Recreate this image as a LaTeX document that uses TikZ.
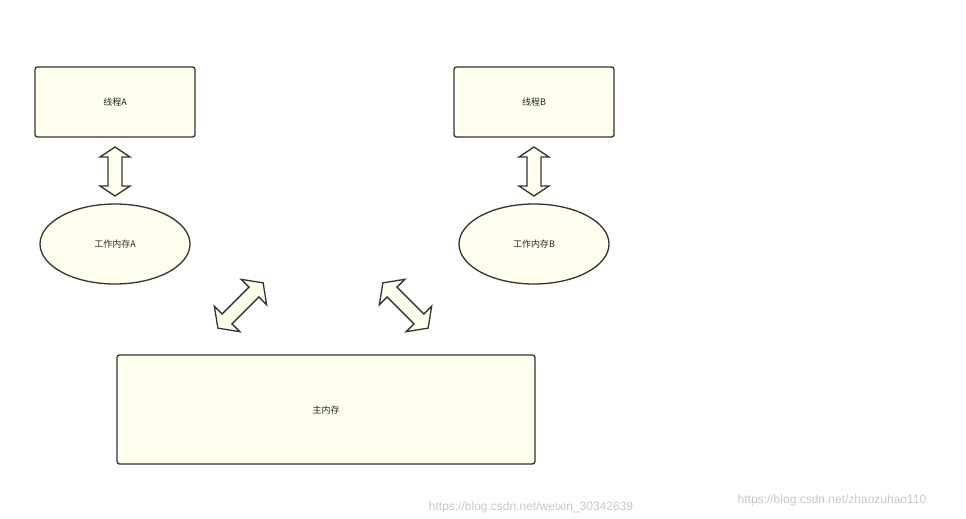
\documentclass[tikz,border=0pt]{standalone}
\usepackage{fontspec}
\setmainfont{Noto Sans CJK SC}
\newfontfamily\wmfont{Liberation Sans}
\definecolor{fillc}{HTML}{FFFFEE}
\definecolor{linec}{HTML}{333333}
\newcommand\myarr[5]{% center, angle, halflength, headhalf, headlen
  \draw[arrowst,shift={(#1)},rotate=#2] (-#3,0) -- (-#3+#5,#4) -- (-#3+#5,7) -- (#3-#5,7) -- (#3-#5,#4) -- (#3,0) -- (#3-#5,-#4) -- (#3-#5,-7) -- (-#3+#5,-7) -- (-#3+#5,-#4) -- cycle;}
\begin{document}
\begin{tikzpicture}[x=1pt,y=-1pt,
  box/.style={draw=linec,line width=1.3pt,fill=fillc,rounded corners=2.5pt},
  arrowst/.style={draw=linec,line width=1.3pt,fill=fillc,line join=miter},
  lbl/.style={font=\fontsize{9}{10}\selectfont,text=black!85},
  wmst/.style={text=black!22,font=\wmfont\fontsize{12}{14}\selectfont}]
\useasboundingbox (0,0) rectangle (966,519);
\draw[box] (35,67) rectangle (195,137);
\node[lbl] (ta) at (115,102) {线程A};
\draw[box] (454,67) rectangle (614,137);
\node[lbl] (tb) at (534,102) {线程B};
\draw[box] (117,355) rectangle (535,464);
\node[lbl] (mm) at (326,410) {主内存};
\draw[draw=linec,line width=1.3pt,fill=fillc] (115,244) ellipse [x radius=75, y radius=40];
\node[lbl] (wa) at (115,244) {工作内存A};
\draw[draw=linec,line width=1.3pt,fill=fillc] (534,244) ellipse [x radius=75, y radius=40];
\node[lbl] (wb) at (534,244) {工作内存B};
\myarr{115,171.5}{90}{24.5}{15}{10}
\myarr{534,171.5}{90}{24.5}{15}{10}
\myarr{240.5,305.5}{45}{32}{18}{13}
\myarr{405.5,305.5}{-45}{32}{18}{13}
\node[wmst] (w1) at (531,507) {https://blog.csdn.net/weixin\_30342639};
\node[wmst] (w2) at (832,500) {https://blog.csdn.net/zhaozuhao110};
\end{tikzpicture}
\end{document}
